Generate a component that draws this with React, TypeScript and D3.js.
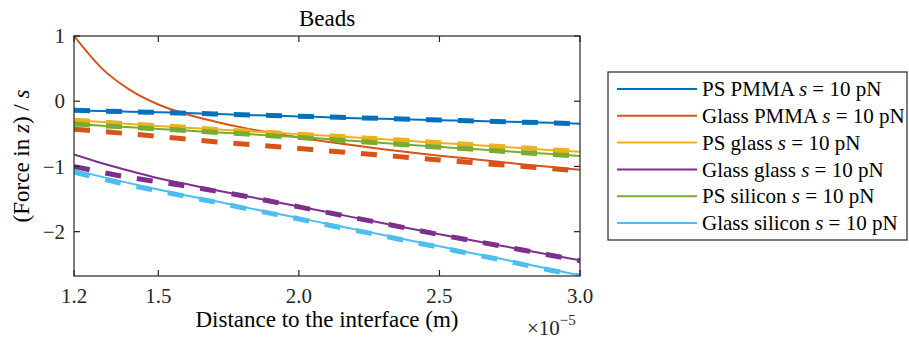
import React from "react";
import * as d3 from "d3";

// x positions (units of 1e-5 m)
const xData = [1.2, 1.3, 1.4, 1.5, 1.6, 1.7, 1.8, 1.9, 2.0, 2.1, 2.2, 2.3, 2.4, 2.5, 2.6, 2.7, 2.8, 2.9, 3.0];

const psPmma = [-0.14, -0.15, -0.16, -0.17, -0.18, -0.195, -0.21, -0.22, -0.235, -0.245, -0.26, -0.27, -0.28, -0.29, -0.3, -0.31, -0.32, -0.33, -0.345];
const psPmmaDashed = [-0.14, -0.152, -0.162, -0.172, -0.183, -0.195, -0.207, -0.218, -0.23, -0.242, -0.254, -0.265, -0.277, -0.288, -0.3, -0.311, -0.322, -0.333, -0.345];

const glassPmma = [1.0, 0.5, 0.17, -0.05, -0.2, -0.31, -0.405, -0.485, -0.555, -0.62, -0.68, -0.735, -0.785, -0.835, -0.88, -0.925, -0.97, -1.01, -1.05];
const glassPmmaDashed = [-0.43, -0.465, -0.5, -0.54, -0.58, -0.62, -0.655, -0.69, -0.725, -0.76, -0.795, -0.83, -0.865, -0.9, -0.935, -0.97, -1.0, -1.035, -1.07];

const psGlass = [-0.29, -0.32, -0.35, -0.38, -0.405, -0.43, -0.455, -0.48, -0.505, -0.53, -0.555, -0.585, -0.61, -0.64, -0.665, -0.695, -0.72, -0.75, -0.775];
const psGlassDashed = [-0.29, -0.32, -0.35, -0.375, -0.4, -0.43, -0.455, -0.48, -0.505, -0.53, -0.555, -0.58, -0.605, -0.635, -0.66, -0.69, -0.715, -0.745, -0.77];

const glassGlass = [-0.815, -0.95, -1.07, -1.18, -1.27, -1.36, -1.445, -1.53, -1.615, -1.7, -1.785, -1.87, -1.955, -2.04, -2.12, -2.2, -2.28, -2.36, -2.44];
const glassGlassDashed = [-1.0, -1.09, -1.17, -1.235, -1.3, -1.375, -1.45, -1.535, -1.62, -1.705, -1.79, -1.875, -1.96, -2.045, -2.125, -2.205, -2.285, -2.365, -2.445];

const psSilicon = [-0.35, -0.375, -0.4, -0.425, -0.45, -0.475, -0.5, -0.525, -0.55, -0.58, -0.61, -0.64, -0.67, -0.7, -0.73, -0.755, -0.785, -0.81, -0.84];
const psSiliconDashed = [-0.35, -0.375, -0.4, -0.425, -0.45, -0.475, -0.5, -0.53, -0.555, -0.585, -0.615, -0.645, -0.675, -0.705, -0.73, -0.76, -0.79, -0.815, -0.845];

const glassSilicon = [-1.055, -1.16, -1.26, -1.355, -1.445, -1.53, -1.62, -1.705, -1.79, -1.88, -1.965, -2.05, -2.14, -2.225, -2.315, -2.4, -2.49, -2.58, -2.67];
const glassSiliconDashed = [-1.09, -1.19, -1.29, -1.375, -1.46, -1.545, -1.635, -1.72, -1.805, -1.895, -1.98, -2.065, -2.155, -2.24, -2.33, -2.415, -2.505, -2.595, -2.68];

const seriesNames = ["PS PMMA", "Glass PMMA", "PS glass", "Glass glass", "PS silicon", "Glass silicon"];
const seriesColors = ["#0072BD", "#D95319", "#EDB120", "#7E2F8E", "#77AC30", "#4DBEEE"];
const solidSeries = [psPmma, glassPmma, psGlass, glassGlass, psSilicon, glassSilicon];
const dashedSeries = [psPmmaDashed, glassPmmaDashed, psGlassDashed, glassGlassDashed, psSiliconDashed, glassSiliconDashed];

const xTicks = [1.2, 1.5, 2.0, 2.5, 3.0];
const xTickLabels = ["1.2", "1.5", "2.0", "2.5", "3.0"];
const yTicks = [1, 0, -1, -2];
const yTickLabels = ["1", "0", "\u22121", "\u22122"];

const W = 909;
const H = 345;
const L = 74, R = 580, T = 36, B = 276;
const FONT = "'Liberation Serif', 'Times New Roman', serif";
const AX = "#262626";

export default function App() {
  const all = [...solidSeries.flat(), ...dashedSeries.flat()];
  const x = d3.scaleLinear().domain([1.2, 3.0]).range([L, R]);
  const y = d3.scaleLinear().domain([d3.min(all) as number, d3.max(all) as number]).range([B, T]);
  const line = d3
    .line<number>()
    .x((_, i) => x(xData[i]))
    .y((d) => y(d))
    .curve(d3.curveMonotoneX);

  const legX = 608, legY = 72, legW = 299, legH = 168;
  const rowY0 = 89, rowDy = 26.8;

  return (
    <div style={{ position: "absolute", left: 0, top: 0 }}>
      <svg width={W} height={H} style={{ display: "block", background: "#fff" }}>
        <defs>
          <clipPath id="plotclip">
            <rect x={L} y={T} width={R - L} height={B - T} />
          </clipPath>
        </defs>
        <rect x={0} y={0} width={W} height={H} fill="#fff" />
        <g clipPath="url(#plotclip)">
          {solidSeries.map((s, i) => (
            <path key={"s" + i} d={line(s) || ""} fill="none" stroke={seriesColors[i]} strokeWidth={2} />
          ))}
          {dashedSeries.map((s, i) => (
            <path key={"d" + i} d={line(s) || ""} fill="none" stroke={seriesColors[i]} strokeWidth={5} strokeDasharray="16 16" />
          ))}
        </g>
        {/* axes box */}
        <rect x={L} y={T} width={R - L} height={B - T} fill="none" stroke={AX} strokeWidth={1.2} />
        {xTicks.map((t, i) => (
          <g key={"xt" + i}>
            <line x1={x(t)} x2={x(t)} y1={B} y2={B - 6} stroke={AX} strokeWidth={1.2} />
            <line x1={x(t)} x2={x(t)} y1={T} y2={T + 6} stroke={AX} strokeWidth={1.2} />
            <text x={x(t)} y={303} textAnchor="middle" fontFamily={FONT} fontSize={21} fill={AX}>
              {xTickLabels[i]}
            </text>
          </g>
        ))}
        {yTicks.map((t, i) => (
          <g key={"yt" + i}>
            <line x1={L} x2={L + 6} y1={y(t)} y2={y(t)} stroke={AX} strokeWidth={1.2} />
            <line x1={R} x2={R - 6} y1={y(t)} y2={y(t)} stroke={AX} strokeWidth={1.2} />
            <text x={65} y={y(t)} dy="0.34em" textAnchor="end" fontFamily={FONT} fontSize={21} fill={AX}>
              {yTickLabels[i]}
            </text>
          </g>
        ))}
        {/* exponent */}
        <text x={527} y={335} fontFamily={FONT} fontSize={21} fill={AX}>
          {"\u00d710"}
          <tspan dy={-10} fontSize={15}>{"\u22125"}</tspan>
        </text>
        {/* labels */}
        <text x={(L + R) / 2} y={327} textAnchor="middle" fontFamily={FONT} fontSize={23} fill="#000">
          Distance to the interface (m)
        </text>
        <text transform={`translate(29, ${(T + B) / 2}) rotate(-90)`} textAnchor="middle" fontFamily={FONT} fontSize={23} fill="#000">
          (Force in <tspan fontStyle="italic">z</tspan>) / <tspan fontStyle="italic">s</tspan>
        </text>
        <text x={(L + R) / 2} y={26} textAnchor="middle" fontFamily={FONT} fontSize={23} fill="#000">
          Beads
        </text>
        {/* legend */}
        <rect x={legX} y={legY} width={legW} height={legH} fill="#fff" stroke={AX} strokeWidth={1.2} />
        {seriesNames.map((n, i) => {
          const ry = rowY0 + i * rowDy;
          return (
            <g key={"lg" + i}>
              <line x1={617} x2={697} y1={ry} y2={ry} stroke={seriesColors[i]} strokeWidth={2} />
              <text x={702} y={ry} dy="0.34em" fontFamily={FONT} fontSize={21} fill="#000">
                {n + " "}
                <tspan fontStyle="italic">s</tspan>
                {" = 10 pN"}
              </text>
            </g>
          );
        })}
      </svg>
    </div>
  );
}
